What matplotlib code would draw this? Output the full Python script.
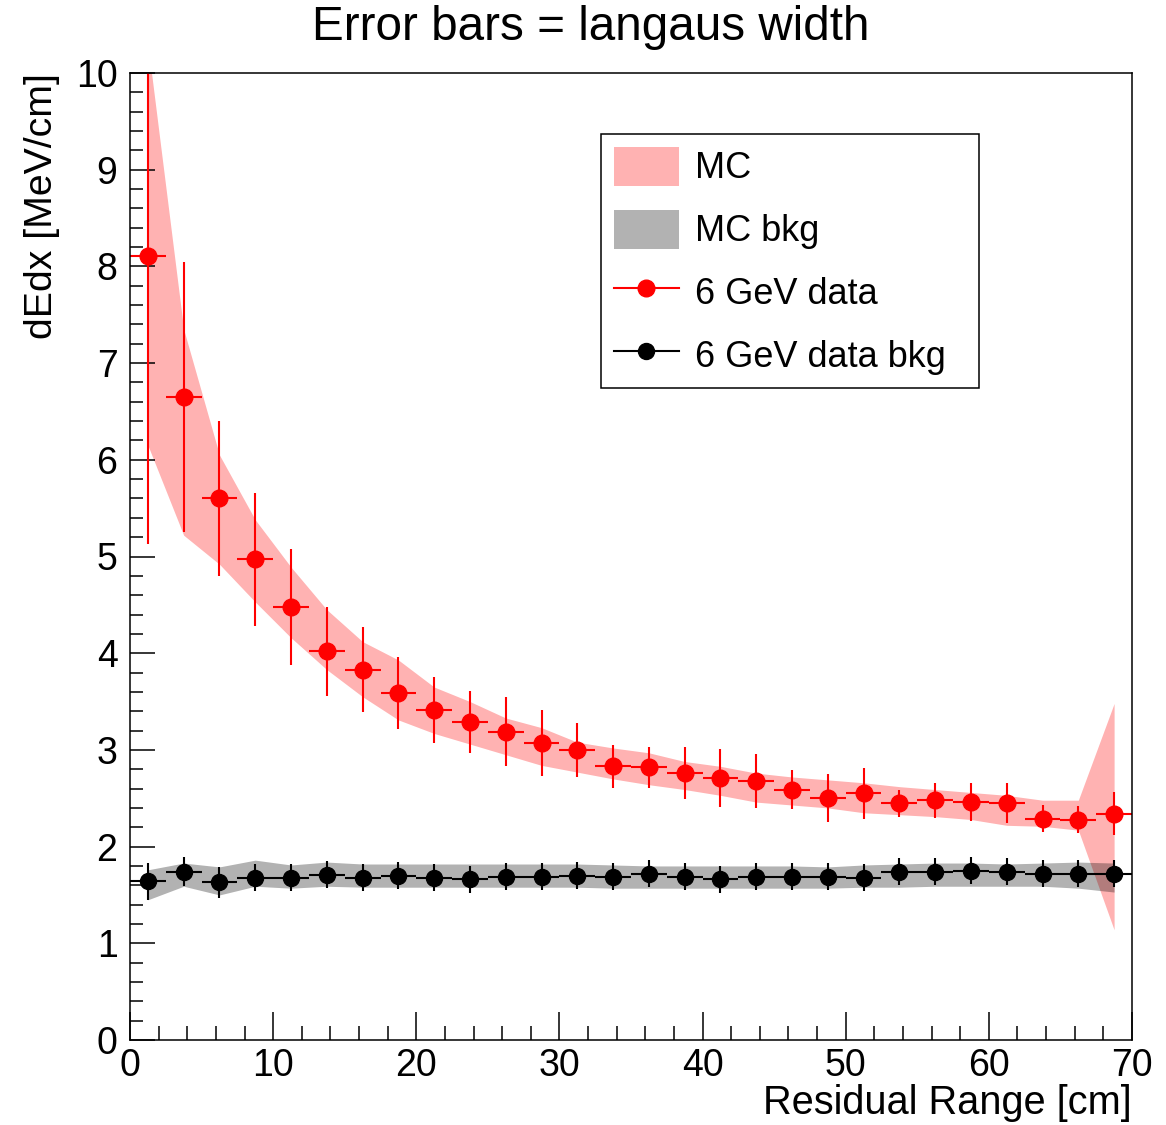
import matplotlib
matplotlib.use("Agg")
import matplotlib.pyplot as plt
from matplotlib.patches import Patch
from matplotlib.lines import Line2D
from matplotlib.ticker import MultipleLocator

plt.rcParams['font.family'] = ['Liberation Sans', 'DejaVu Sans']

# residual range bin centres [cm]
res_range = [1.25, 3.75, 6.25, 8.75, 11.25, 13.75, 16.25, 18.75, 21.25, 23.75,
             26.25, 28.75, 31.25, 33.75, 36.25, 38.75, 41.25, 43.75, 46.25, 48.75,
             51.25, 53.75, 56.25, 58.75, 61.25, 63.75, 66.25, 68.75]
bin_halfwidth = 1.25

# 6 GeV data: langaus MPV and width
data_dedx = [8.11, 6.65, 5.60, 4.97, 4.48, 4.02, 3.83, 3.59, 3.41, 3.29,
             3.19, 3.07, 3.00, 2.83, 2.82, 2.76, 2.71, 2.68, 2.59, 2.50,
             2.55, 2.45, 2.48, 2.46, 2.45, 2.29, 2.28, 2.34]
data_width = [2.98, 1.40, 0.80, 0.69, 0.60, 0.46, 0.44, 0.37, 0.34, 0.32,
              0.36, 0.34, 0.28, 0.22, 0.21, 0.27, 0.30, 0.28, 0.20, 0.25,
              0.26, 0.14, 0.18, 0.20, 0.21, 0.14, 0.14, 0.22]

# 6 GeV data background
bkg_dedx = [1.64, 1.74, 1.63, 1.68, 1.68, 1.71, 1.68, 1.70, 1.68, 1.66,
            1.69, 1.69, 1.70, 1.69, 1.72, 1.69, 1.66, 1.69, 1.69, 1.69,
            1.68, 1.74, 1.74, 1.75, 1.74, 1.72, 1.72, 1.72]
bkg_width = [0.19, 0.15, 0.16, 0.14, 0.14, 0.14, 0.14, 0.14, 0.14, 0.14,
             0.14, 0.14, 0.14, 0.14, 0.14, 0.14, 0.14, 0.14, 0.14, 0.14,
             0.14, 0.14, 0.14, 0.14, 0.14, 0.14, 0.14, 0.14]

# MC band (MPV +- width)
mc_low = [6.15, 5.22, 4.92, 4.53, 4.16, 3.83, 3.55, 3.31, 3.17, 3.06,
          2.95, 2.84, 2.77, 2.70, 2.64, 2.59, 2.53, 2.46, 2.43, 2.40,
          2.35, 2.33, 2.31, 2.28, 2.22, 2.21, 2.17, 1.14]
mc_high = [10.3, 7.35, 6.05, 5.38, 4.89, 4.45, 4.12, 3.93, 3.65, 3.50,
           3.33, 3.23, 3.08, 3.02, 2.97, 2.88, 2.83, 2.76, 2.72, 2.69,
           2.66, 2.62, 2.59, 2.56, 2.53, 2.48, 2.48, 3.48]

# MC background band
mcbkg_low = [1.45, 1.59, 1.50, 1.59, 1.57, 1.59, 1.58, 1.58, 1.58, 1.58,
             1.58, 1.58, 1.58, 1.57, 1.57, 1.57, 1.57, 1.57, 1.57, 1.57,
             1.58, 1.58, 1.59, 1.59, 1.59, 1.59, 1.57, 1.53]
mcbkg_high = [1.76, 1.83, 1.79, 1.86, 1.81, 1.84, 1.82, 1.82, 1.82, 1.82,
              1.82, 1.82, 1.82, 1.81, 1.80, 1.80, 1.80, 1.80, 1.80, 1.79,
              1.81, 1.82, 1.83, 1.83, 1.82, 1.83, 1.84, 1.83]

W, H = 1166, 1125
fig = plt.figure(figsize=(W / 100, H / 100), dpi=100)
ax = fig.add_axes([130 / W, 85 / H, 1002 / W, 967 / H])

# bands
ax.fill_between(res_range, mc_low, mc_high, color='red', alpha=0.3, lw=0)
ax.fill_between(res_range, mcbkg_low, mcbkg_high, color='black', alpha=0.3, lw=0)

# data points with error bars
ax.errorbar(res_range, data_dedx, yerr=data_width, xerr=bin_halfwidth, fmt='o',
            color='red', ms=12, elinewidth=1.5, capsize=0)
ax.errorbar(res_range, bkg_dedx, yerr=bkg_width, xerr=bin_halfwidth, fmt='o',
            color='black', ms=11.5, elinewidth=1.5, capsize=0)

ax.set_xlim(0, 70)
ax.set_ylim(0, 10)

ax.xaxis.set_major_locator(MultipleLocator(10))
ax.xaxis.set_minor_locator(MultipleLocator(2))
ax.yaxis.set_major_locator(MultipleLocator(1))
ax.yaxis.set_minor_locator(MultipleLocator(0.2))

ax.tick_params(axis='x', which='major', direction='in', length=20, width=1.1,
               labelsize=27, pad=6, top=False)
ax.tick_params(axis='x', which='minor', direction='in', length=10, width=1.1, top=False)
ax.tick_params(axis='y', which='major', direction='in', length=18, width=1.1,
               labelsize=27, pad=9, right=False)
ax.tick_params(axis='y', which='minor', direction='in', length=9.5, width=1.1, right=False)

for sp in ax.spines.values():
    sp.set_linewidth(1.1)

# titles
fig.text(591 / W, 1 - 28 / H, 'Error bars = langaus width', ha='center', va='center',
         fontsize=34.3)
fig.text(1132 / W, 1 - 1103 / H, 'Residual Range [cm]', ha='right', va='center',
         fontsize=28.6)
fig.text(42 / W, 1 - 73 / H, 'dEdx [MeV/cm]', rotation=90, ha='center', va='top',
         fontsize=28.3)

# legend box spans a fixed width inside the frame
handles = [Patch(facecolor='red', alpha=0.3, lw=0),
           Patch(facecolor='black', alpha=0.3, lw=0),
           Line2D([], [], color='red', marker='o', ms=12, lw=1.5),
           Line2D([], [], color='black', marker='o', ms=11.5, lw=1.5)]
labels = ['MC', 'MC bkg', '6 GeV data', '6 GeV data bkg']
x0 = (601 - 130) / 1002
x1 = (979 - 130) / 1002
ytop = (1040 - 134) / 967
leg = ax.legend(handles, labels, loc='upper left', mode='expand',
                bbox_to_anchor=(x0, ytop - 0.3, x1 - x0, 0.3),
                borderaxespad=0, fontsize=26, handlelength=1.8, handleheight=1.3,
                handletextpad=0.45, labelspacing=0.64, borderpad=0.35,
                fancybox=False, framealpha=1, edgecolor='black')
leg.get_frame().set_linewidth(1.1)

fig.savefig('out.png', dpi=100)
